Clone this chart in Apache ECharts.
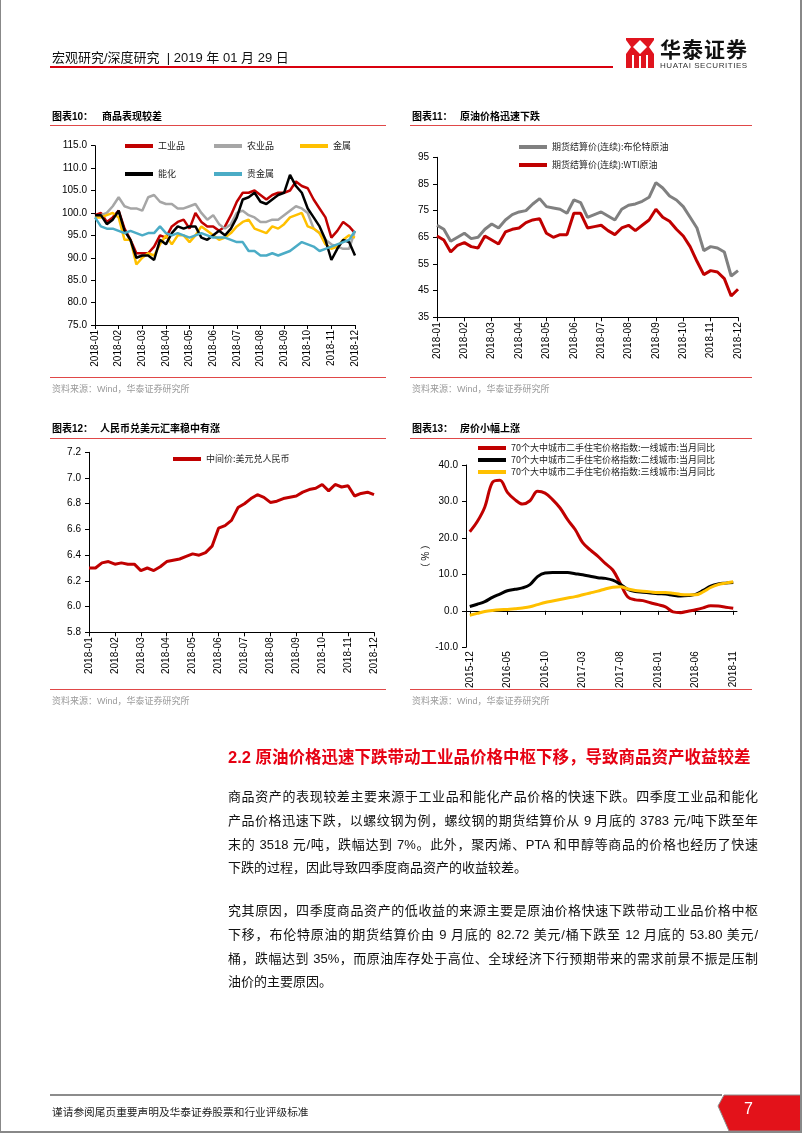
<!DOCTYPE html>
<html><head><meta charset="utf-8">
<script src="https://cdn.jsdelivr.net/npm/echarts@6/dist/echarts.min.js"></script>
<style>
html,body{margin:0;padding:0;background:#fff;}
#page{position:relative;width:802px;height:1133px;overflow:hidden;font-family:"Liberation Sans","Noto Sans CJK SC",sans-serif;color:#111;}
#chart{position:absolute;left:0;top:0;width:802px;height:1133px;}
.t{position:absolute;white-space:nowrap;}
.hl{position:absolute;height:1px;background:#E04848;}
.ttl{position:absolute;font-size:10px;font-weight:bold;line-height:12px;white-space:nowrap;color:#000;}
.src{position:absolute;font-size:9px;line-height:12px;color:#9a9a9a;white-space:nowrap;}
.ln{position:absolute;left:228px;width:530px;font-size:13px;line-height:24px;height:24px;text-align:justify;text-align-last:justify;white-space:nowrap;color:#111;}
.ln.last{text-align-last:left;}
</style></head><body>
<div id="page">
<div id="chart"></div>

<!-- header -->
<div class="t" style="left:52px;top:49px;font-size:13px;line-height:18px;">宏观研究/深度研究&nbsp; | 2019 年 01 月 29 日</div>
<div style="position:absolute;left:50px;top:66px;width:563px;height:2px;background:#D9000E;"></div>
<svg style="position:absolute;left:626px;top:38px;" width="28" height="30" viewBox="0 0 28 30">
 <rect x="0" y="0" width="28" height="30" fill="#E0141E"/>
 <polygon points="14,2 21,9 14,16 7,9" fill="#fff"/>
 <polygon points="0,2 5,9 0,16" fill="#fff"/>
 <polygon points="28,2 23,9 28,16" fill="#fff"/>
 <rect x="6" y="17" width="2" height="13" fill="#fff"/>
 <rect x="13" y="18" width="2" height="12" fill="#fff"/>
 <rect x="20" y="17" width="2" height="13" fill="#fff"/>
</svg>
<div class="t" style="left:660px;top:37px;font-size:21px;line-height:22px;font-weight:bold;letter-spacing:1px;color:#111;font-family:'Noto Sans CJK SC',sans-serif;">华泰证券</div>
<div class="t" style="left:660px;top:61px;font-size:8px;line-height:10px;letter-spacing:0.55px;color:#333;">HUATAI SECURITIES</div>

<!-- chart titles -->
<div class="ttl" style="left:52px;top:111px;">图表10：</div>
<div class="ttl" style="left:102px;top:111px;">商品表现较差</div>
<div class="hl" style="left:50px;top:125px;width:336px;"></div>
<div class="ttl" style="left:412px;top:111px;">图表11：</div>
<div class="ttl" style="left:460px;top:111px;">原油价格迅速下跌</div>
<div class="hl" style="left:410px;top:125px;width:342px;"></div>
<div class="hl" style="left:50px;top:377px;width:336px;"></div>
<div class="src" style="left:52px;top:383px;">资料来源：Wind，华泰证券研究所</div>
<div class="hl" style="left:410px;top:377px;width:342px;"></div>
<div class="src" style="left:412px;top:383px;">资料来源：Wind，华泰证券研究所</div>

<div class="ttl" style="left:52px;top:423px;">图表12：</div>
<div class="ttl" style="left:100px;top:423px;">人民币兑美元汇率稳中有涨</div>
<div class="hl" style="left:50px;top:438px;width:336px;"></div>
<div class="ttl" style="left:412px;top:423px;">图表13：</div>
<div class="ttl" style="left:460px;top:423px;">房价小幅上涨</div>
<div class="hl" style="left:410px;top:438px;width:342px;"></div>
<div class="hl" style="left:50px;top:689px;width:336px;"></div>
<div class="src" style="left:52px;top:695px;">资料来源：Wind，华泰证券研究所</div>
<div class="hl" style="left:410px;top:689px;width:342px;"></div>
<div class="src" style="left:412px;top:695px;">资料来源：Wind，华泰证券研究所</div>

<!-- section -->
<div class="t" style="left:228px;top:746px;font-size:16.5px;line-height:22px;font-weight:bold;color:#E60012;">2.2 原油价格迅速下跌带动工业品价格中枢下移，导致商品资产收益较差</div>
<div class="ln" style="top:785px;">商品资产的表现较差主要来源于工业品和能化产品价格的快速下跌。四季度工业品和能化</div>
<div class="ln" style="top:809px;">产品价格迅速下跌，以螺纹钢为例，螺纹钢的期货结算价从 9 月底的 3783 元/吨下跌至年</div>
<div class="ln" style="top:833px;">末的 3518 元/吨，跌幅达到 7%。此外，聚丙烯、PTA 和甲醇等商品的价格也经历了快速</div>
<div class="ln last" style="top:856px;">下跌的过程，因此导致四季度商品资产的收益较差。</div>
<div class="ln" style="top:899px;">究其原因，四季度商品资产的低收益的来源主要是原油价格快速下跌带动工业品价格中枢</div>
<div class="ln" style="top:923px;">下移，布伦特原油的期货结算价由 9 月底的 82.72 美元/桶下跌至 12 月底的 53.80 美元/</div>
<div class="ln" style="top:947px;">桶，跌幅达到 35%，而原油库存处于高位、全球经济下行预期带来的需求前景不振是压制</div>
<div class="ln last" style="top:970px;">油价的主要原因。</div>

<!-- footer -->
<div style="position:absolute;left:50px;top:1094px;width:672px;height:2px;background:#8c8c8c;"></div>
<div class="t" style="left:52px;top:1105px;font-size:10.7px;line-height:14px;color:#222;">谨请参阅尾页重要声明及华泰证券股票和行业评级标准</div>
<svg style="position:absolute;left:712px;top:1094px;" width="90" height="38" viewBox="0 0 90 38">
 <polygon points="12,1 90,1 90,37 17,37 6,12" fill="#E3121A" stroke="#8c8c8c" stroke-width="1"/>
</svg>
<div class="t" style="left:744px;top:1099px;font-size:16px;line-height:20px;color:#fff;">7</div>

<!-- page border -->
<div style="position:absolute;left:0;top:0;width:1px;height:1133px;background:#888;"></div>
<div style="position:absolute;left:800px;top:0;width:2px;height:1133px;background:#888;"></div>
<div style="position:absolute;left:0;top:1131px;width:802px;height:2px;background:#888;"></div>
</div>

<script>
// ---------- data ----------
const monthTicks = ['2018-01','2018-02','2018-03','2018-04','2018-05','2018-06','2018-07','2018-08','2018-09','2018-10','2018-11','2018-12'];
const STEP = 0.25; // samples every quarter month from 2018-01

// 图表10 商品指数
const industrial = [99.5,100,98,99,100.5,96.5,94,91,91,91,92.5,95,94.5,97,98,98.5,96.5,100,98,97,97,96,97,99.5,102.5,104.5,104.5,105,104,103,104,104.5,104.5,105,107,106,105.5,103,101,99,94.5,96,98,97,95.5];
const agri = [99,99.5,100,101.5,103.5,101.5,101,101,100.5,103.5,104,102.5,102,102,101,101,101.5,102,100,98.5,99.5,97.5,96.5,97.5,100,100.5,99.5,99,98,98,98.5,98.5,99.5,100.5,101.5,101,100,96.5,95.5,94,93,92.5,92,92,96];
const metal = [99,99,99.5,100,99,94,94,88.5,90,91,90.5,93,95,93,95,95,93.5,95,97,96,95,94,94.5,95.5,97,98,98.5,96.5,96,95.5,97,96.5,97.5,99,99.5,100,97,96.5,95.5,93,92,92.5,94,95,94.5];
const energy = [99.5,99.5,97.5,98.5,100.5,96,94,90,90.5,90.5,89.5,94,93,95.5,97,96.5,97,97,94.5,94,95,96,95,96.5,99,103,103.5,104.5,102.5,102,103,104,104.5,108.5,106,104.5,101,99,97,94,89.5,92,94,93.5,90.5];
const precious = [99,97,96.5,96.5,96,95.5,96,95.5,95,95.5,95.5,97,95.5,95,95.5,95,94.5,95,95.5,95,94.5,94.5,94.5,94,93.5,93.5,91.5,91.5,90.5,90.5,91,90.5,91,91.5,92.5,93.5,93,92.5,91.5,92,92.5,93,93.5,94,96];

// 图表11 原油
const brent = [69.5,68,63.5,65,66.5,64.5,65,68,70,68.5,71.5,73.5,74.5,75,77.5,79.5,76.5,76,75.5,74,79,78,72.5,73.5,74.5,73,71.5,75.5,77,77.5,78.5,80,85.5,83.5,80.5,79,76.5,72.5,68.5,60,61.5,61,59.5,50.5,52.5];
const wti = [65.5,64,59.5,62,63,61.5,61,65.5,64,62.5,67,68,68.5,70.5,71.5,72,66.5,65,66,66,74,74,68.5,69,69.5,67.5,66,68.5,69.5,67.5,69.5,71.5,75.5,72.5,71,68,65.5,61.5,56,51,52.5,52,49.5,43,45.5];

// 图表12 汇率
const usdcny = [6.30,6.30,6.34,6.35,6.33,6.34,6.33,6.33,6.28,6.30,6.28,6.31,6.35,6.36,6.37,6.39,6.41,6.40,6.42,6.47,6.61,6.63,6.67,6.77,6.80,6.84,6.87,6.85,6.81,6.82,6.84,6.85,6.86,6.89,6.91,6.92,6.95,6.90,6.95,6.93,6.94,6.86,6.88,6.89,6.87];

// 图表13 房价
const houseMonths = ['2015-12','2016-01','2016-02','2016-03','2016-04','2016-05','2016-06','2016-07','2016-08','2016-09','2016-10','2016-11','2016-12','2017-01','2017-02','2017-03','2017-04','2017-05','2017-06','2017-07','2017-08','2017-09','2017-10','2017-11','2017-12','2018-01','2018-02','2018-03','2018-04','2018-05','2018-06','2018-07','2018-08','2018-09','2018-10','2018-11'];
const tier1 = [21.7,24.5,28.5,35.2,35.8,32.5,30.5,29.3,30.2,32.8,32.3,30.5,28.2,25,22.3,18.7,16.7,15,13,11.2,7.5,3.8,3,2.8,2.2,1.7,1.1,-0.3,-0.5,-0.1,0.3,0.8,1.4,1.3,1,0.7];
const tier2 = [1.2,1.8,2.5,3.7,4.6,5.5,5.9,6.3,7.2,9.4,10.4,10.5,10.5,10.5,10.2,9.9,9.5,9.1,8.9,8.4,7.3,5.9,5.3,5.1,4.9,4.7,4.6,4.3,4.1,4.2,4.5,5.6,6.8,7.4,7.6,7.8];
const tier3 = [-1.2,-0.7,-0.2,0.1,0.3,0.4,0.6,0.8,1.1,1.7,2.3,2.7,3.1,3.5,3.9,4.4,4.9,5.4,6.0,6.5,6.6,6.0,5.6,5.4,5.2,5.0,5.0,4.8,4.5,4.4,4.4,5.2,6.4,7.2,7.6,8.0];

// ---------- helpers ----------
const pairs = arr => arr.map((v, i) => [i * STEP, v]);
const FONT = '"Liberation Sans","Noto Sans CJK SC",sans-serif';
const CJK = '"Noto Sans CJK SC",sans-serif';
const axLine = {lineStyle: {color: '#000', width: 1}};
const axTick = {length: 4, lineStyle: {color: '#000'}};
const lbl = {color: '#000', fontSize: 10, fontFamily: FONT};

function monthAxis(gi) {
  return {type: 'value', gridIndex: gi, min: 0, max: 11, interval: 1,
    axisLine: {onZero: false, ...axLine}, axisTick: axTick, splitLine: {show: false},
    axisLabel: {...lbl, rotate: 90, margin: 5, formatter: v => monthTicks[Math.round(v)] || ''}};
}
function valAxis(gi, min, max, interval, dec) {
  return {type: 'value', gridIndex: gi, min, max, interval,
    axisLine: {show: true, ...axLine}, axisTick: {show: true, ...axTick}, splitLine: {show: false},
    axisLabel: {...lbl, margin: 8, formatter: v => v.toFixed(dec)}};
}
function leg(name, left, top) {
  return {data: [name], left, top, padding: 0, icon: 'rect', itemWidth: 28, itemHeight: 4,
    selectedMode: false, textStyle: {fontSize: 9, color: '#222', fontFamily: CJK}};
}
function line(name, data, color, xi, yi, w, smooth) {
  return {name, type: 'line', data, xAxisIndex: xi, yAxisIndex: yi, showSymbol: false, symbol: 'none',
    smooth: smooth || false, lineStyle: {color, width: w}, itemStyle: {color}, z: 3};
}

const RED = '#C00000', GRAY1 = '#A6A6A6', GRAY2 = '#808080', YEL = '#FFC000', BLUE = '#4BACC6';

const chart = echarts.init(document.getElementById('chart'), null, {renderer: 'canvas'});
chart.setOption({
  backgroundColor: 'transparent',
  animation: false,
  grid: [
    {left: 95, top: 145.7, width: 260, height: 179.3},
    {left: 437, top: 157.3, width: 301, height: 160},
    {left: 89, top: 452.3, width: 285, height: 180},
    {left: 466, top: 465, width: 271, height: 182.3}
  ],
  xAxis: [
    monthAxis(0), monthAxis(1), monthAxis(2),
    {type: 'category', gridIndex: 3, data: houseMonths, boundaryGap: true,
      axisLine: {show: false, onZero: false}, axisTick: {show: false}, splitLine: {show: false},
      axisLabel: {...lbl, rotate: 90, interval: 4, margin: 4}},
    {type: 'category', gridIndex: 3, data: houseMonths, boundaryGap: true, position: 'top',
      axisLine: {show: true, onZero: true, ...axLine},
      axisTick: {show: true, inside: true, alignWithLabel: true, interval: 4, length: 4, lineStyle: {color: '#000'}},
      axisLabel: {show: false}, splitLine: {show: false}}
  ],
  yAxis: [
    valAxis(0, 75, 115, 5, 1),
    valAxis(1, 35, 95, 10, 0),
    valAxis(2, 5.8, 7.2, 0.2, 1),
    {...valAxis(3, -10, 40, 10, 1), name: '（ % ）', nameLocation: 'middle', nameRotate: -90, nameGap: 36,
      nameTextStyle: {fontSize: 10, color: '#000', fontFamily: CJK}}
  ],
  legend: [
    leg('工业品', 125, 141.5), leg('农业品', 214, 141.5), leg('金属', 300, 141.5),
    leg('能化', 125, 169.5), leg('贵金属', 214, 169.5),
    leg('期货结算价(连续):布伦特原油', 519, 142.5), leg('期货结算价(连续):WTI原油', 519, 160.5),
    leg('中间价:美元兑人民币', 173, 454.5),
    leg('70个大中城市二手住宅价格指数:一线城市:当月同比', 478, 443.5),
    leg('70个大中城市二手住宅价格指数:二线城市:当月同比', 478, 455.5),
    leg('70个大中城市二手住宅价格指数:三线城市:当月同比', 478, 467.5)
  ],
  series: [
    line('工业品', pairs(industrial), RED, 0, 0, 2.5),
    line('农业品', pairs(agri), GRAY1, 0, 0, 2.5),
    line('金属', pairs(metal), YEL, 0, 0, 2.5),
    line('能化', pairs(energy), '#000', 0, 0, 2.5),
    line('贵金属', pairs(precious), BLUE, 0, 0, 2.5),
    line('期货结算价(连续):布伦特原油', pairs(brent), GRAY2, 1, 1, 3),
    line('期货结算价(连续):WTI原油', pairs(wti), RED, 1, 1, 3),
    line('中间价:美元兑人民币', pairs(usdcny), RED, 2, 2, 3),
    line('70个大中城市二手住宅价格指数:一线城市:当月同比', tier1, RED, 3, 3, 3, 0.35),
    line('70个大中城市二手住宅价格指数:二线城市:当月同比', tier2, '#000', 3, 3, 3, 0.35),
    line('70个大中城市二手住宅价格指数:三线城市:当月同比', tier3, YEL, 3, 3, 3, 0.35)
  ]
});
</script>
</body></html>
